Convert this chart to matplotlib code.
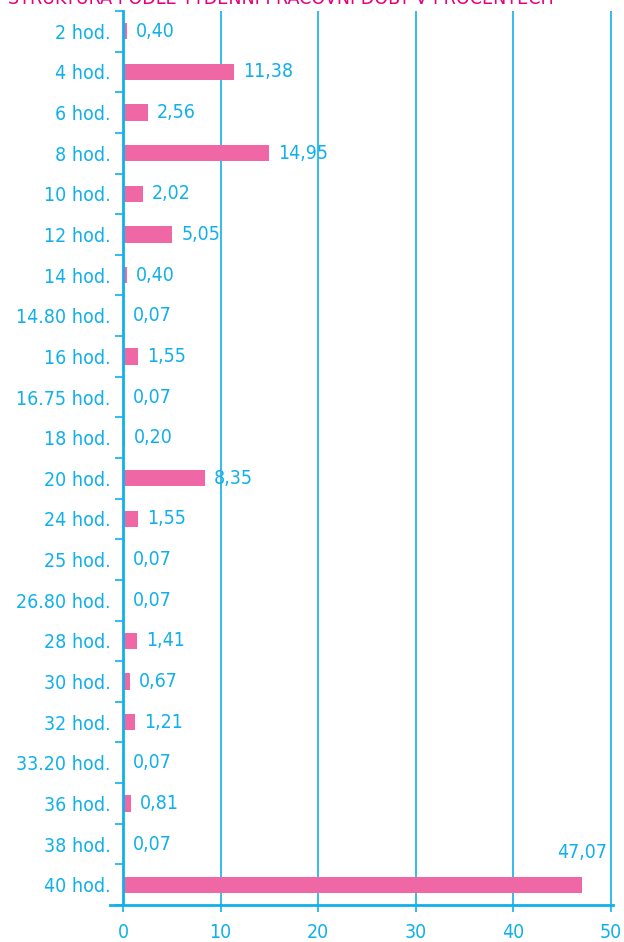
import numpy as np
import matplotlib.pyplot as plt

# Categories and shares (%)
labels = ['2 hod.', '4 hod.', '6 hod.', '8 hod.', '10 hod.', '12 hod.', '14 hod.',
          '14.80 hod.', '16 hod.', '16.75 hod.', '18 hod.', '20 hod.', '24 hod.',
          '25 hod.', '26.80 hod.', '28 hod.', '30 hod.', '32 hod.', '33.20 hod.',
          '36 hod.', '38 hod.', '40 hod.']
values = [0.40, 11.38, 2.56, 14.95, 2.02, 5.05, 0.40, 0.07, 1.55, 0.07, 0.20,
          8.35, 1.55, 0.07, 0.07, 1.41, 0.67, 1.21, 0.07, 0.81, 0.07, 47.07]
xticks = [0, 10, 20, 30, 40, 50]
title = 'STRUKTURA PODLE TÝDENNÍ PRACOVNÍ DOBY V PROCENTECH'

blue = '#12B0EA'
pink = '#F067A6'
title_pink = '#E6007E'

plt.rcParams['font.family'] = 'DejaVu Sans'
plt.rcParams['font.stretch'] = 'condensed'
fs = 14

fig = plt.figure(figsize=(6.24, 9.42), dpi=100)
ax = fig.add_axes([110 / 624, 37 / 942, 503 / 624, 894 / 942])

y = np.arange(len(labels))
ax.barh(y, values, height=0.4, color=pink, zorder=3)

ax.set_xlim(-1.35, 50.2)
ax.set_ylim(len(labels) - 0.5, -0.5)

# vertical grid lines
for t in xticks[1:]:
    ax.axvline(t, color=blue, lw=1.2, zorder=1)

for s in ['top', 'right']:
    ax.spines[s].set_visible(False)
ax.spines['left'].set_position(('data', 0))
ax.spines['left'].set_color(blue)
ax.spines['left'].set_linewidth(2)
ax.spines['bottom'].set_color(blue)
ax.spines['bottom'].set_linewidth(2)
ax.spines['left'].set_zorder(4)

ax.set_xticks(xticks)
ax.set_xticklabels([str(t) for t in xticks], fontsize=fs, color=blue)
ax.tick_params(axis='x', direction='out', length=5, width=1.2, color=blue, pad=8)

# category ticks at boundaries, labels at centres
ax.set_yticks(np.arange(len(labels) + 1) - 0.5)
ax.set_yticklabels([])
ax.set_yticks(y, minor=True)
ax.set_yticklabels(labels, minor=True, fontsize=fs, color=blue)
ax.tick_params(axis='y', which='major', direction='out', length=6, width=1.2, color=blue)
ax.tick_params(axis='y', which='minor', length=0, pad=9)

for yi, v in zip(y, values):
    txt = f'{v:.2f}'.replace('.', ',')
    if v > 40:
        ax.text(v + 2.5, yi - 0.55, txt, ha='right', va='bottom', fontsize=fs, color=blue)
    else:
        ax.text(v + 0.9, yi, txt, ha='left', va='center', fontsize=fs, color=blue)

# title sits mostly above the top edge, as in the cropped original
fig.text(0.013, 1 - 4 / 942, title, ha='left', va='baseline', fontsize=fs, color=title_pink)

fig.savefig('out.png', dpi=100)
